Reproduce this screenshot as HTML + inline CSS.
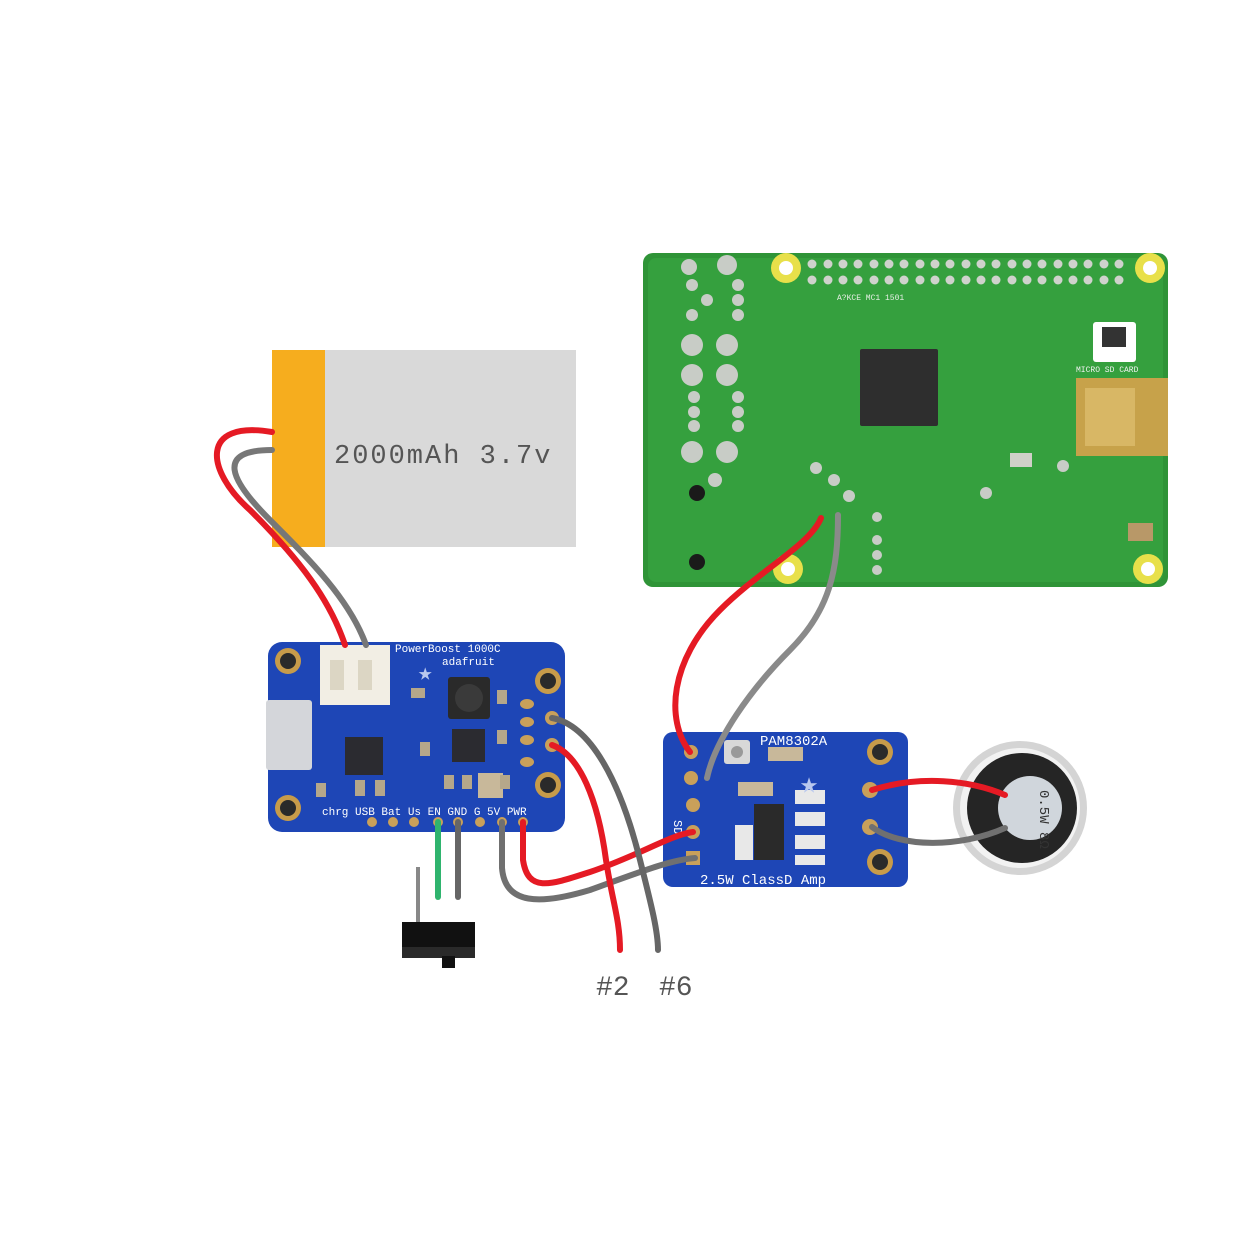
<!DOCTYPE html>
<html><head><meta charset="utf-8"><style>
html,body{margin:0;padding:0;background:#fff;}
svg{display:block;}
text{font-family:"Liberation Mono",monospace;}
</style></head><body>
<svg width="1250" height="1242" viewBox="0 0 1250 1242" xmlns="http://www.w3.org/2000/svg">
<rect width="1250" height="1242" fill="#fff"/>

<!-- Battery -->
<rect x="324" y="350" width="252" height="197" fill="#d9d9d9"/>
<rect x="272" y="350" width="53" height="197" fill="#f6ad1e"/>
<text x="334" y="463" font-size="27" fill="#555" letter-spacing="2">2000mAh 3.7v</text>

<!-- Raspberry Pi -->
<rect x="643" y="253" width="525" height="334" rx="10" fill="#2f9437"/>
<rect x="648" y="258" width="515" height="324" rx="8" fill="#35a03e"/>
<g fill="#c8ccc6">
<circle cx="689" cy="267" r="8"/><circle cx="727" cy="265" r="10"/>
<circle cx="692" cy="345" r="11"/><circle cx="727" cy="345" r="11"/>
<circle cx="692" cy="375" r="11"/><circle cx="727" cy="375" r="11"/>
<circle cx="692" cy="452" r="11"/><circle cx="727" cy="452" r="11"/>
<circle cx="692" cy="285" r="6"/><circle cx="707" cy="300" r="6"/><circle cx="738" cy="285" r="6"/><circle cx="738" cy="300" r="6"/><circle cx="692" cy="315" r="6"/><circle cx="738" cy="315" r="6"/>
<circle cx="694" cy="397" r="6"/><circle cx="694" cy="412" r="6"/><circle cx="694" cy="426" r="6"/><circle cx="738" cy="397" r="6"/><circle cx="738" cy="412" r="6"/><circle cx="738" cy="426" r="6"/>
<circle cx="715" cy="480" r="7"/><circle cx="816" cy="468" r="6"/><circle cx="834" cy="480" r="6"/><circle cx="849" cy="496" r="6"/>
<circle cx="877" cy="517" r="5"/><circle cx="877" cy="540" r="5"/><circle cx="877" cy="555" r="5"/><circle cx="877" cy="570" r="5"/>
<circle cx="986" cy="493" r="6"/><circle cx="1063" cy="466" r="6"/>
</g>
<g fill="#cfd2cc">
<circle cx="812" cy="264" r="4.5"/><circle cx="828" cy="264" r="4.5"/><circle cx="843" cy="264" r="4.5"/><circle cx="858" cy="264" r="4.5"/><circle cx="874" cy="264" r="4.5"/><circle cx="889" cy="264" r="4.5"/><circle cx="904" cy="264" r="4.5"/><circle cx="920" cy="264" r="4.5"/><circle cx="935" cy="264" r="4.5"/><circle cx="950" cy="264" r="4.5"/><circle cx="966" cy="264" r="4.5"/><circle cx="981" cy="264" r="4.5"/><circle cx="996" cy="264" r="4.5"/><circle cx="1012" cy="264" r="4.5"/><circle cx="1027" cy="264" r="4.5"/><circle cx="1042" cy="264" r="4.5"/><circle cx="1058" cy="264" r="4.5"/><circle cx="1073" cy="264" r="4.5"/><circle cx="1088" cy="264" r="4.5"/><circle cx="1104" cy="264" r="4.5"/><circle cx="1119" cy="264" r="4.5"/>
<circle cx="812" cy="280" r="4.5"/><circle cx="828" cy="280" r="4.5"/><circle cx="843" cy="280" r="4.5"/><circle cx="858" cy="280" r="4.5"/><circle cx="874" cy="280" r="4.5"/><circle cx="889" cy="280" r="4.5"/><circle cx="904" cy="280" r="4.5"/><circle cx="920" cy="280" r="4.5"/><circle cx="935" cy="280" r="4.5"/><circle cx="950" cy="280" r="4.5"/><circle cx="966" cy="280" r="4.5"/><circle cx="981" cy="280" r="4.5"/><circle cx="996" cy="280" r="4.5"/><circle cx="1012" cy="280" r="4.5"/><circle cx="1027" cy="280" r="4.5"/><circle cx="1042" cy="280" r="4.5"/><circle cx="1058" cy="280" r="4.5"/><circle cx="1073" cy="280" r="4.5"/><circle cx="1088" cy="280" r="4.5"/><circle cx="1104" cy="280" r="4.5"/><circle cx="1119" cy="280" r="4.5"/>
</g>
<g fill="#e8e04a"><circle cx="786" cy="268" r="15"/><circle cx="1150" cy="268" r="15"/><circle cx="788" cy="569" r="15"/><circle cx="1148" cy="569" r="15"/></g>
<g fill="#fff"><circle cx="786" cy="268" r="7"/><circle cx="1150" cy="268" r="7"/><circle cx="788" cy="569" r="7"/><circle cx="1148" cy="569" r="7"/></g>
<rect x="860" y="349" width="78" height="77" rx="2" fill="#2e2e2e"/>
<rect x="1093" y="322" width="43" height="40" rx="3" fill="#fff"/>
<rect x="1102" y="327" width="24" height="20" fill="#333"/>
<rect x="1076" y="378" width="92" height="78" fill="#c7a24a"/>
<rect x="1085" y="388" width="50" height="58" fill="#d8b765"/>
<rect x="1010" y="453" width="22" height="14" fill="#d0d0c8"/>
<rect x="1128" y="523" width="25" height="18" fill="#b89868"/>
<circle cx="697" cy="493" r="8" fill="#1a1a1a"/><circle cx="697" cy="562" r="8" fill="#1a1a1a"/>
<text x="837" y="300" font-size="8" fill="#e8efe6">A?KCE MC1  1501</text>
<text x="1076" y="372" font-size="8" fill="#f2f2f2">MICRO SD CARD</text>

<!-- PowerBoost -->
<rect x="268" y="642" width="297" height="190" rx="14" fill="#1e46b6"/>
<rect x="320" y="645" width="70" height="60" fill="#f2eee4"/>
<rect x="330" y="660" width="14" height="30" fill="#dcd6c4"/><rect x="358" y="660" width="14" height="30" fill="#dcd6c4"/>
<rect x="266" y="700" width="46" height="70" rx="3" fill="#d4d6da"/>
<rect x="448" y="677" width="42" height="42" rx="3" fill="#2a2a2a"/>
<circle cx="469" cy="698" r="14" fill="#3a3a3a"/>
<rect x="345" y="737" width="38" height="38" fill="#2b2b30"/>
<rect x="452" y="729" width="33" height="33" fill="#2b2b30"/>
<rect x="478" y="773" width="25" height="25" fill="#c8b89a"/>
<g fill="#b5a78a"><rect x="411" y="688" width="14" height="10"/><rect x="420" y="742" width="10" height="14"/><rect x="316" y="783" width="10" height="14"/><rect x="355" y="780" width="10" height="16"/><rect x="375" y="780" width="10" height="16"/><rect x="444" y="775" width="10" height="14"/><rect x="462" y="775" width="10" height="14"/><rect x="500" y="775" width="10" height="14"/><rect x="497" y="690" width="10" height="14"/><rect x="497" y="730" width="10" height="14"/></g>
<g fill="#c79b4a"><circle cx="288" cy="661" r="13"/><circle cx="548" cy="681" r="13"/><circle cx="288" cy="808" r="13"/><circle cx="548" cy="785" r="13"/></g>
<g fill="#2a2a2a"><circle cx="288" cy="661" r="8"/><circle cx="548" cy="681" r="8"/><circle cx="288" cy="808" r="8"/><circle cx="548" cy="785" r="8"/></g>
<g fill="#c9a05a"><ellipse cx="527" cy="704" rx="7" ry="5"/><ellipse cx="527" cy="722" rx="7" ry="5"/><ellipse cx="527" cy="740" rx="7" ry="5"/><ellipse cx="527" cy="762" rx="7" ry="5"/><circle cx="552" cy="718" r="7"/><circle cx="552" cy="745" r="7"/></g>
<g fill="#c9a05a"><circle cx="372" cy="822" r="5"/><circle cx="393" cy="822" r="5"/><circle cx="414" cy="822" r="5"/><circle cx="438" cy="822" r="5"/><circle cx="458" cy="822" r="5"/><circle cx="480" cy="822" r="5"/><circle cx="502" cy="822" r="5"/><circle cx="523" cy="822" r="5"/></g>
<text x="395" y="652" font-size="11" fill="#fff">PowerBoost 1000C</text>
<text x="442" y="665" font-size="11" fill="#fff">adafruit</text>
<text x="322" y="815" font-size="11" fill="#fff">chrg USB Bat Us EN GND  G  5V PWR</text>
<text x="418" y="680" font-size="24" fill="#b9c8ee">★</text>

<!-- PAM8302 -->
<rect x="663" y="732" width="245" height="155" rx="10" fill="#1e46b6"/>
<rect x="724" y="740" width="26" height="24" rx="3" fill="#d8d8d8"/><circle cx="737" cy="752" r="6" fill="#999"/>
<rect x="768" y="747" width="35" height="14" fill="#c8b89a"/>
<rect x="738" y="782" width="35" height="14" fill="#c8b89a"/>
<rect x="754" y="804" width="30" height="56" fill="#2a2a2a"/>
<rect x="795" y="790" width="30" height="14" fill="#e8e8e8"/><rect x="795" y="812" width="30" height="14" fill="#e8e8e8"/><rect x="795" y="835" width="30" height="14" fill="#e8e8e8"/><rect x="795" y="855" width="30" height="10" fill="#e8e8e8"/>
<rect x="735" y="825" width="18" height="35" fill="#e8e8e8"/>
<g fill="#c79b4a"><circle cx="880" cy="752" r="13"/><circle cx="880" cy="862" r="13"/></g>
<g fill="#2a2a2a"><circle cx="880" cy="752" r="8"/><circle cx="880" cy="862" r="8"/></g>
<g fill="#c9a05a"><circle cx="870" cy="790" r="8"/><circle cx="870" cy="827" r="8"/><circle cx="691" cy="752" r="7"/><circle cx="691" cy="778" r="7"/><circle cx="693" cy="805" r="7"/><circle cx="693" cy="832" r="7"/><rect x="686" y="851" width="14" height="14"/></g>
<text x="760" y="745" font-size="14" fill="#fff">PAM8302A</text>
<text x="700" y="884" font-size="14" fill="#fff">2.5W ClassD Amp</text>
<text x="800" y="793" font-size="30" fill="#b9c8ee">★</text>
<text x="674" y="820" font-size="12" fill="#fff" transform="rotate(90 674 820)">SD</text>

<!-- Speaker -->
<circle cx="1020" cy="808" r="67" fill="#d4d4d4"/>
<circle cx="1020" cy="808" r="60" fill="#f2f2f2"/>
<circle cx="1022" cy="808" r="55" fill="#252525"/>
<circle cx="1030" cy="808" r="32" fill="#d0d6dc"/>
<text x="1040" y="790" font-size="14" fill="#333" transform="rotate(90 1040 790)">0.5W 8Ω</text>

<!-- Switch -->
<line x1="418" y1="867" x2="418" y2="922" stroke="#888" stroke-width="4"/>
<rect x="402" y="922" width="73" height="36" fill="#111"/>
<rect x="402" y="947" width="73" height="11" fill="#2a2a2a"/>
<rect x="442" y="956" width="13" height="12" fill="#111"/>

<!-- Wires -->
<g fill="none" stroke-width="6" stroke-linecap="round">
<path d="M272 432 C200 420 205 470 250 510 C300 560 330 600 345 645" stroke="#e51a24"/>
<path d="M272 450 C215 450 230 480 270 520 C310 560 350 600 366 645" stroke="#777"/>
<path d="M438 822 L438 897" stroke="#2fb46e"/>
<path d="M458 822 L458 897" stroke="#666"/>
<path d="M502 822 L502 868 C505 905 540 905 590 890 C640 872 670 860 695 858" stroke="#707070"/>
<path d="M523 822 L523 860 C528 893 550 885 590 872 C640 855 670 835 693 832" stroke="#e51a24"/>
<path d="M552 745 C580 755 598 800 606 860 C612 900 620 920 620 950" stroke="#e51a24"/>
<path d="M552 718 C590 725 620 780 640 860 C650 900 658 930 658 950" stroke="#666"/>
<path d="M821 518 C810 545 760 570 720 610 C670 660 665 720 690 752" stroke="#e51a24"/>
<path d="M838 515 C838 570 830 610 790 650 C750 690 715 740 707 778" stroke="#8a8a8a"/>
<path d="M872 790 C920 775 970 780 1005 795" stroke="#e51a24"/>
<path d="M872 827 C900 848 960 848 1005 828" stroke="#707070"/>
</g>

<text x="596" y="995" font-size="28" fill="#555">#2</text>
<text x="659" y="995" font-size="28" fill="#555">#6</text>
</svg>
</body></html>
